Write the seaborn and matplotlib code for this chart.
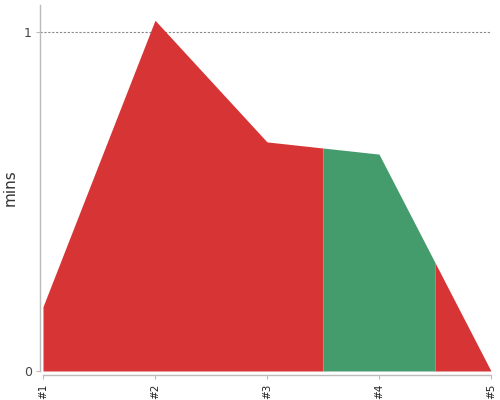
import numpy as np
import matplotlib
matplotlib.use('Agg')
import matplotlib.pyplot as plt
import seaborn as sns

# data
labels = ['#1', '#2', '#3', '#4', '#5']
mins = [0.19, 1.035, 0.676, 0.64, 0.0]
status = ['bad', 'bad', 'bad', 'good', 'bad']
palette = {'bad': '#d73535', 'good': '#449b6c'}

sns.set_theme(style='white')
plt.rcParams['font.family'] = ['DejaVu Sans']

fig = plt.figure(figsize=(5, 4), dpi=100)
ax = fig.add_axes([0.08, 0.0725, 0.902, 0.915])

# spine position first: it resets the ticks
for side in ['top', 'right']:
    ax.spines[side].set_visible(False)
ax.spines['bottom'].set_position(('outward', 3))

xs = np.arange(1, len(mins) + 1)

# each point owns the half step on either side of it; merge runs of one colour
runs = []
for x, s in zip(xs, status):
    lo = max(x - 0.5, xs[0])
    hi = min(x + 0.5, xs[-1])
    if runs and runs[-1][2] == s:
        runs[-1][1] = hi
    else:
        runs.append([lo, hi, s])

for lo, hi, s in runs:
    seg = np.unique(np.concatenate([[lo, hi], xs[(xs > lo) & (xs < hi)]]))
    ax.fill_between(seg, 0, np.interp(seg, xs, mins), color=palette[s],
                    linewidth=0, zorder=2)

ax.axhline(1, color='#888888', linestyle=(0, (2, 1.5)), linewidth=0.8, zorder=1)

ax.set_xlim(1 - 3 / 112, 5)
ax.set_ylim(0, 1.08)
ax.set_xticks(xs)
ax.set_xticklabels(labels, rotation=90, fontsize=7.5, color='#222222')
ax.set_yticks([0, 1])
ax.set_yticklabels(['0', '1'], fontsize=9, color='#444444')
ax.set_ylabel('mins', fontsize=11, color='#333333', labelpad=4)

for side in ['left', 'bottom']:
    ax.spines[side].set_color('#bbbbbb')
    ax.spines[side].set_linewidth(1)
ax.spines['bottom'].set_bounds(1, 5)
ax.tick_params(axis='both', which='both', length=3, width=0.8, color='#bbbbbb',
               bottom=True, left=True, pad=3)

fig.savefig('out.png', dpi=100)
